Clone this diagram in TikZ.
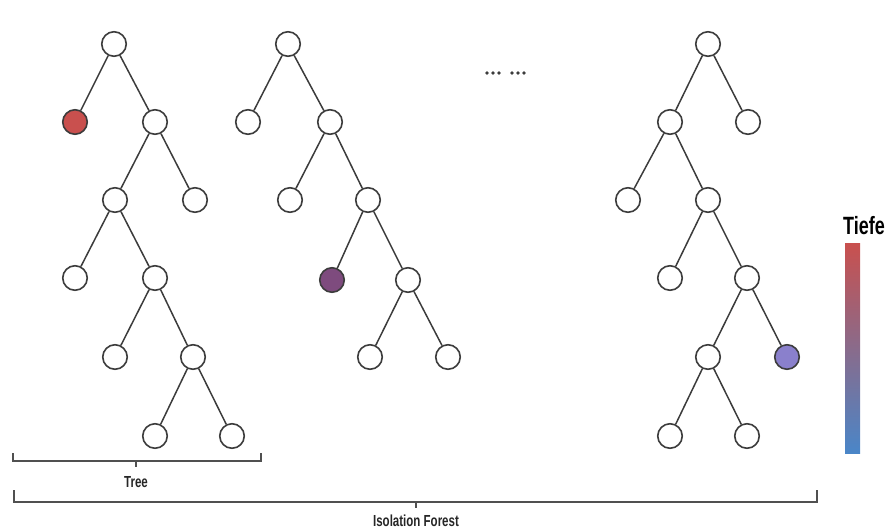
\documentclass[tikz,border=0pt]{standalone}
\usepackage{fontspec}
\newfontfamily\labelfont{Liberation Sans}[FakeStretch=0.72]
\definecolor{deepred}{HTML}{C9504E}
\definecolor{midpurple}{HTML}{7E4B7E}
\definecolor{lavender}{HTML}{8A80CC}
\definecolor{depthtop}{HTML}{C9504E}
\definecolor{depthbot}{HTML}{4A86C8}
\definecolor{edgegray}{HTML}{3C3C3C}
\begin{document}
\begin{tikzpicture}[x=1pt,y=-1pt,
  vert/.style={circle,draw=edgegray,line width=1.6pt,minimum size=24.5pt,inner sep=0pt,fill=white},
  link/.style={draw=edgegray,line width=1.5pt},
  brace/.style={draw=edgegray!90,line width=1.6pt},
  dot/.style={circle,fill=edgegray,inner sep=0pt,minimum size=3.6pt},
  caption/.style={font=\labelfont\bfseries\fontsize{16}{16}\selectfont,text=black!85}]
\useasboundingbox (0,0) rectangle (892,531);

% first tree
\node[vert] (a0) at (114,44) {};
\node[vert,fill=deepred] (a1) at (75,122) {};
\node[vert] (a2) at (155,122) {};
\node[vert] (a3) at (115,200) {};
\node[vert] (a4) at (195,200) {};
\node[vert] (a5) at (75,278) {};
\node[vert] (a6) at (155,278) {};
\node[vert] (a7) at (115,357) {};
\node[vert] (a8) at (193,357) {};
\node[vert] (a9) at (155,436) {};
\node[vert] (a10) at (232,436) {};
\draw[link] (a0)--(a1) (a0)--(a2) (a2)--(a3) (a2)--(a4) (a3)--(a5) (a3)--(a6)
  (a6)--(a7) (a6)--(a8) (a8)--(a9) (a8)--(a10);

% second tree
\node[vert] (b0) at (288,44) {};
\node[vert] (b1) at (248,122) {};
\node[vert] (b2) at (330,122) {};
\node[vert] (b3) at (290,200) {};
\node[vert] (b4) at (368,200) {};
\node[vert,fill=midpurple] (b5) at (332,280) {};
\node[vert] (b6) at (408,280) {};
\node[vert] (b7) at (370,357) {};
\node[vert] (b8) at (448,357) {};
\draw[link] (b0)--(b1) (b0)--(b2) (b2)--(b3) (b2)--(b4) (b4)--(b5) (b4)--(b6)
  (b6)--(b7) (b6)--(b8);

% last tree
\node[vert] (c0) at (708,44) {};
\node[vert] (c1) at (670,122) {};
\node[vert] (c2) at (748,122) {};
\node[vert] (c3) at (628,200) {};
\node[vert] (c4) at (708,200) {};
\node[vert] (c5) at (670,278) {};
\node[vert] (c6) at (747,278) {};
\node[vert] (c7) at (708,357) {};
\node[vert,fill=lavender] (c8) at (787,357) {};
\node[vert] (c9) at (670,436) {};
\node[vert] (c10) at (747,436) {};
\draw[link] (c0)--(c1) (c0)--(c2) (c1)--(c3) (c1)--(c4) (c4)--(c5) (c4)--(c6)
  (c6)--(c7) (c6)--(c8) (c7)--(c9) (c7)--(c10);

% ellipsis between trees
\foreach \x [count=\i] in {487,493,499,512,518,524}
  \node[dot] (dot\i) at (\x,73) {};

% depth scale
\shade[top color=depthtop,bottom color=depthbot] (845,243) rectangle (860,453);
\node[font=\labelfont\bfseries\fontsize{25}{25}\selectfont,anchor=south] (depth) at (864,238) {Tiefe};

% brace under one tree
\draw[brace] (13,453) -- (13,461) -- (261,461) -- (261,453);
\draw[brace] (136,461) -- (136,467);
\node[caption] (treelbl) at (136,482) {Tree};

% brace under the whole forest
\draw[brace] (14,490) -- (14,502) -- (817,502) -- (817,490);
\draw[brace] (416,502) -- (416,508);
\node[caption] (forestlbl) at (416,521) {Isolation Forest};
\end{tikzpicture}
\end{document}
